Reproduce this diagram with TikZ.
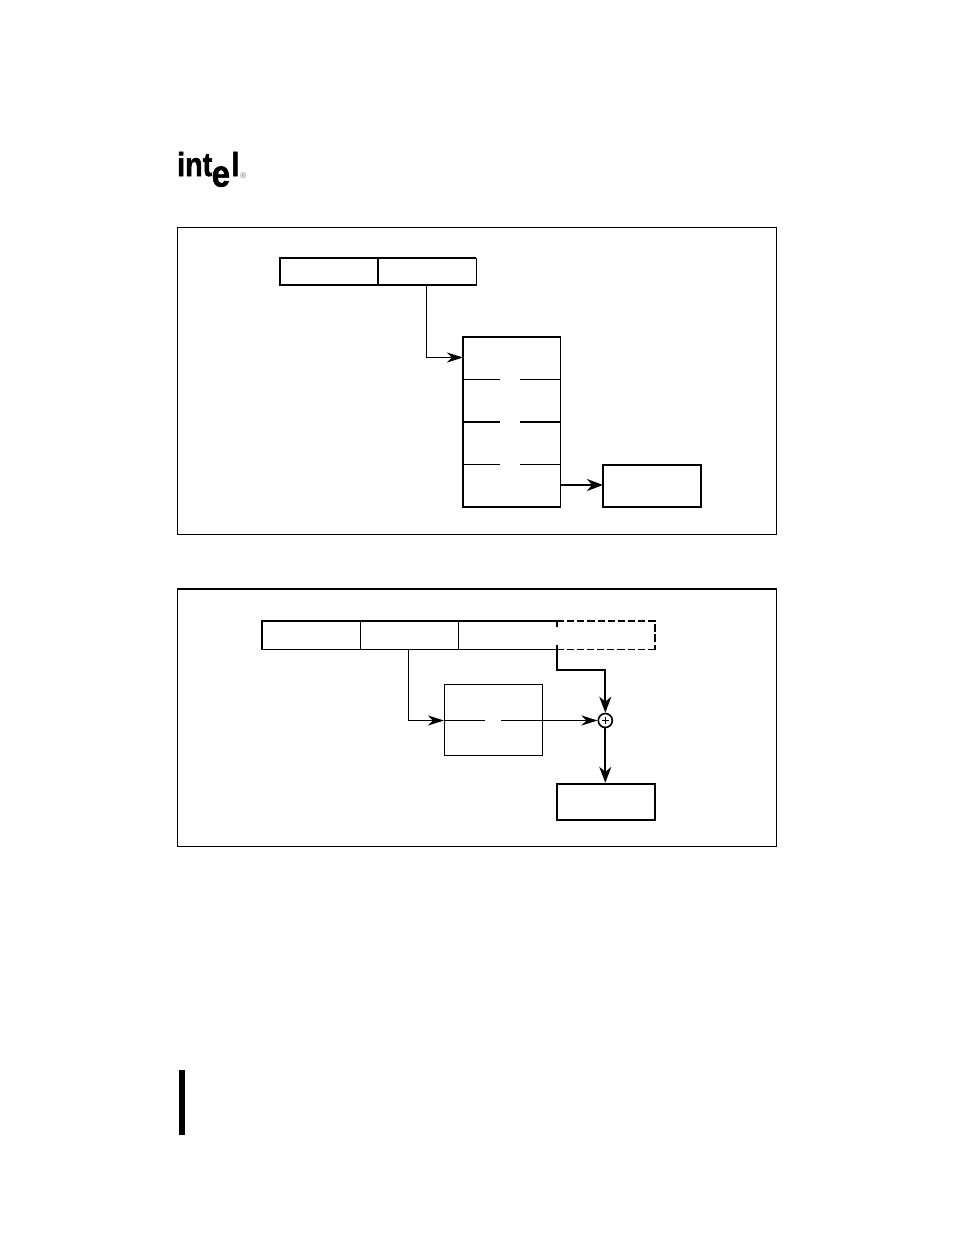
\documentclass[tikz,border=0pt]{standalone}
\usepackage{fontspec}
\setmainfont{Liberation Sans}
\newfontfamily\logofont[FakeBold=1.8]{Liberation Sans Bold}
\usetikzlibrary{arrows.meta}
\tikzset{
 x=0.75pt,y=-0.75pt,
 thinl/.style={line width=0.75pt},
 medl/.style={line width=1.2pt},
 thickl/.style={line width=1.7pt},
 tip/.style={-{Stealth[length=16*0.75pt,width=10*0.75pt,inset=5*0.75pt]}},
 tipb/.style={-{Stealth[length=16*0.75pt,width=12*0.75pt,inset=5*0.75pt]}},
 logo/.style={inner sep=0pt,font=\logofont\fontsize{25pt}{25pt}\selectfont},
}
\begin{document}
\begin{tikzpicture}[line cap=butt,line join=miter]
\useasboundingbox (0,0) rectangle (954,1235);
% logo
\node[logo,anchor=base west,xscale=0.86] (lgi) at (177,176) {int};
\node[logo,anchor=base west,font=\logofont\fontsize{28pt}{28pt}\selectfont,xscale=0.88] (lge) at (211.5,186.5) {e};
\node[logo,anchor=base west,xscale=0.9] (lgl) at (231,176) {l};
\node[inner sep=0pt,font=\fontsize{6pt}{6pt}\selectfont,text=black!55,anchor=base west] (lgr) at (240,178) {®};
% upper frame
\draw[thinl] (177.5,227.5) rectangle (776.5,534.5);
\draw[medl] (476,285) -- (280,285) -- (280,258) -- (476,258);
\draw[thinl] (476.3,257.5) -- (476.3,285.5);
\draw[medl] (378,258) -- (378,285);
\coordinate (s1) at (426.5,285);
\coordinate (t1) at (463,357.5);
\draw[thinl,tip] (s1) |- (t1);
\draw[medl] (463,337) rectangle (560.5,507);
\draw[thinl] (463,379.5) -- (500,379.5) (520,379.5) -- (560,379.5);
\draw[medl] (463,422) -- (500,422) (520,422) -- (560,422);
\draw[thinl] (463,464.5) -- (500,464.5) (520,464.5) -- (560,464.5);
\coordinate (s2) at (560.5,485);
\coordinate (t2) at (603,485);
\draw[thickl,tipb] (s2) -- (t2);
\draw[medl] (603,465) rectangle (701,507);
% lower frame
\draw[thinl] (177.5,589) rectangle (776.5,846.5);
\draw[medl] (177,589) -- (777,589);
\draw[medl] (557,621) -- (262,621) -- (262,649.5);
\draw[thinl] (262,649.5) -- (557,649.5);
\draw[thinl] (360.5,621) -- (360.5,649.5) (458.5,621) -- (458.5,649.5);
\draw[medl,dash pattern=on 5.4pt off 2.2pt] (557,621) -- (655,621) -- (655,649.5);
\draw[thinl,dash pattern=on 5.4pt off 2.2pt] (655,649.5) -- (557,649.5);
\draw[medl] (557,621) -- (557,627);
\coordinate (s3) at (408.5,649.5);
\coordinate (t3) at (444,720.5);
\draw[thinl,tip] (s3) |- (t3);
\node[draw,thinl,minimum width=98*0.75pt,minimum height=70.5*0.75pt,inner sep=0pt] (tbl) at (493.2,720) {};
\draw[thinl] (444,720.5) -- (485,720.5);
\coordinate (s4) at (501,720.5);
\node[circle,draw,line width=1.2pt,minimum size=14*0.75pt,inner sep=0pt] (sum) at (605.3,720.5) {};
\draw[line width=1.1pt] (601.8,720.5) -- (608.8,720.5) (605.3,717) -- (605.3,724);
\draw[thinl,tip] (s4) -- (sum.west);
\coordinate (s5) at (557,645);
\coordinate (m5) at (605.3,670);
\draw[thickl,tipb] (s5) |- (m5) -- (sum.north);
\node[draw,thickl,minimum width=98*0.75pt,minimum height=36*0.75pt,inner sep=0pt] (res) at (606,802) {};
\draw[thickl,tipb] (sum.south) -- (res.north -| sum.south);
% change bar
\fill (179,1070) rectangle (185,1135);
\end{tikzpicture}
\end{document}
